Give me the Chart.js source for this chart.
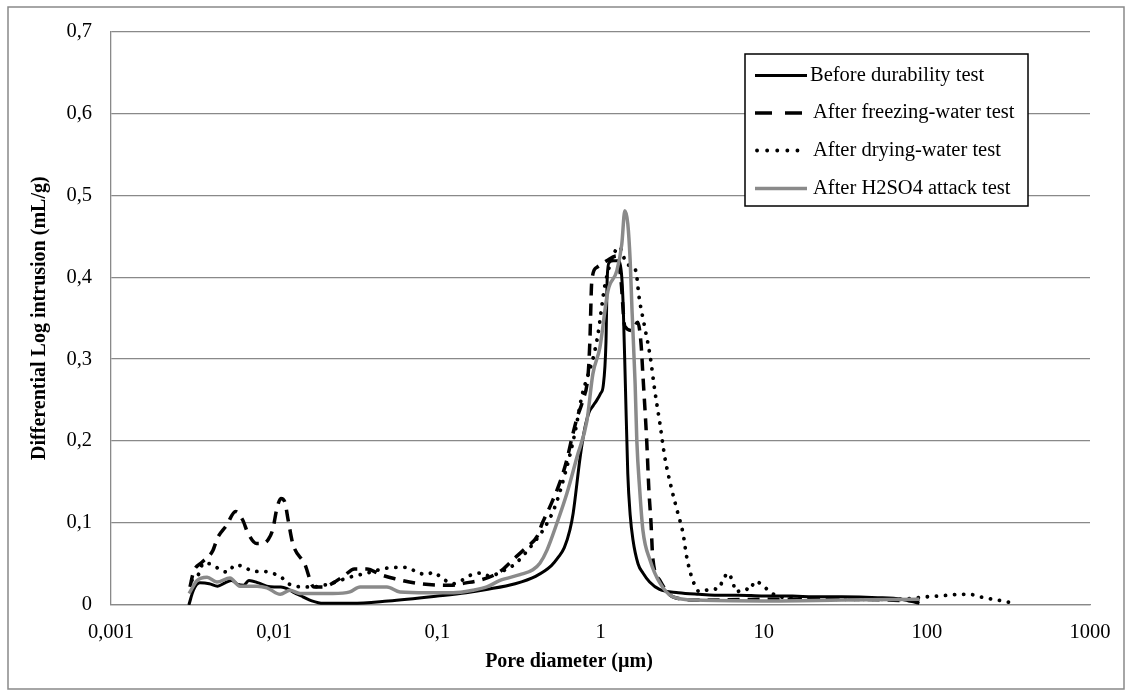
<!DOCTYPE html>
<html><head><meta charset="utf-8">
<script src="https://cdn.jsdelivr.net/npm/chart.js@4.4.0/dist/chart.umd.min.js"></script>
<style>html,body{margin:0;padding:0;background:#fff;} canvas{display:block;}</style>
</head><body>
<canvas id="c" width="1132" height="697"></canvas>
<script>
const seriesLabels = ['Before durability test', 'After freezing-water test', 'After drying-water test', 'After H2SO4 attack test'];
const xTickValues = [0.001, 0.01, 0.1, 1, 10, 100, 1000];
const xTickLabels = ['0,001', '0,01', '0,1', '1', '10', '100', '1000'];
const yTickLabels = ['0', '0,1', '0,2', '0,3', '0,4', '0,5', '0,6', '0,7'];
const xTitle = 'Pore diameter (µm)';
const yTitle = 'Differential Log intrusion (mL/g)';

// Before durability test
const beforeD = [0.003,0.0032,0.0035,0.004,0.0045,0.005,0.0055,0.006,0.0065,0.007,0.008,0.009,0.01,0.011,0.012,0.013,0.015,0.017,0.02,0.03,0.05,0.1,0.15,0.2,0.3,0.4,0.5,0.55,0.6,0.65,0.68,0.75,0.8,0.85,0.9,0.95,1.0,1.04,1.08,1.1,1.13,1.2,1.25,1.3,1.35,1.38,1.42,1.47,1.52,1.58,1.7,1.82,2.0,2.3,3,4,5,7,10,15,20,30,50,70,90];
const beforeV = [0.0,0.018,0.027,0.026,0.023,0.027,0.030,0.025,0.024,0.030,0.027,0.023,0.022,0.022,0.020,0.016,0.010,0.005,0.002,0.002,0.005,0.011,0.015,0.019,0.026,0.035,0.048,0.058,0.070,0.092,0.112,0.180,0.215,0.235,0.243,0.250,0.258,0.268,0.320,0.400,0.418,0.420,0.420,0.420,0.400,0.360,0.270,0.160,0.110,0.080,0.050,0.039,0.028,0.019,0.015,0.013,0.012,0.012,0.011,0.011,0.010,0.010,0.009,0.007,0.002];

// After freezing-water test
const freezeD = [0.00305,0.0032,0.0036,0.0042,0.0045,0.0051,0.0058,0.0064,0.0069,0.0078,0.0085,0.0092,0.0098,0.0104,0.011,0.0116,0.0122,0.013,0.0154,0.0175,0.02,0.023,0.027,0.031,0.037,0.045,0.055,0.078,0.12,0.15,0.18,0.22,0.25,0.29,0.35,0.41,0.44,0.49,0.56,0.62,0.67,0.72,0.78,0.84,0.86,0.885,0.95,1.09,1.26,1.33,1.41,1.56,1.69,1.77,1.82,1.92,1.98,2.04,2.09,2.31,2.78,4,10,30,90];
const freezeV = [0.022,0.040,0.052,0.066,0.082,0.097,0.114,0.104,0.088,0.075,0.075,0.080,0.092,0.118,0.130,0.126,0.103,0.075,0.050,0.022,0.022,0.027,0.036,0.044,0.044,0.037,0.032,0.026,0.024,0.027,0.030,0.036,0.043,0.055,0.070,0.084,0.100,0.120,0.148,0.176,0.205,0.229,0.250,0.282,0.320,0.396,0.412,0.420,0.426,0.400,0.340,0.335,0.345,0.320,0.280,0.200,0.140,0.100,0.058,0.030,0.010,0.006,0.007,0.007,0.005];

// After drying-water test
const dryD = [0.00313,0.0035,0.00366,0.00422,0.00465,0.00521,0.00575,0.00662,0.00741,0.00853,0.0097,0.0112,0.012,0.013,0.015,0.0173,0.0199,0.0229,0.0291,0.0371,0.0491,0.059,0.0651,0.075,0.0863,0.094,0.108,0.125,0.163,0.188,0.21,0.242,0.299,0.369,0.456,0.526,0.606,0.697,0.769,0.837,0.898,0.964,1.064,1.19,1.30,1.45,1.63,1.67,1.72,1.85,2.01,2.15,2.31,2.48,2.74,2.98,3.2,3.38,3.68,4.06,4.88,5.24,5.62,6.04,6.47,6.76,7.68,8.23,8.83,9.89,10.9,12.6,16.7,33.7,68.4,100,120,159,183,211,272,309,356];
const dryV = [0.030,0.040,0.051,0.049,0.043,0.040,0.049,0.046,0.041,0.041,0.039,0.033,0.027,0.024,0.022,0.022,0.024,0.027,0.034,0.039,0.045,0.046,0.046,0.040,0.037,0.040,0.032,0.026,0.037,0.039,0.035,0.040,0.050,0.070,0.095,0.120,0.160,0.210,0.255,0.280,0.300,0.330,0.390,0.425,0.437,0.416,0.410,0.400,0.377,0.343,0.305,0.262,0.222,0.180,0.140,0.112,0.088,0.058,0.030,0.016,0.020,0.019,0.030,0.039,0.028,0.016,0.020,0.018,0.029,0.024,0.016,0.010,0.008,0.007,0.007,0.010,0.011,0.013,0.013,0.010,0.006,0.004,0.001];

// After H2SO4 attack test
const acidD = [0.00301,0.00337,0.00388,0.00446,0.00536,0.00617,0.00785,0.00903,0.0109,0.0125,0.0144,0.0229,0.0291,0.0336,0.0491,0.059,0.0863,0.125,0.165,0.201,0.242,0.321,0.385,0.425,0.47,0.541,0.622,0.716,0.826,0.898,0.991,1.11,1.26,1.35,1.41,1.47,1.52,1.56,1.63,1.67,1.74,1.82,2.01,2.31,2.78,3.9,10,30,90];
const acidV = [0.014,0.030,0.034,0.028,0.033,0.023,0.023,0.021,0.013,0.018,0.014,0.014,0.016,0.022,0.022,0.016,0.015,0.015,0.018,0.022,0.030,0.037,0.043,0.051,0.067,0.100,0.136,0.180,0.225,0.282,0.314,0.383,0.408,0.440,0.481,0.465,0.420,0.360,0.270,0.200,0.140,0.091,0.055,0.027,0.010,0.006,0.005,0.006,0.007];

const toPts = (d, v) => d.map((x, i) => ({x: x, y: v[i]}));
const GRID = '#898989';
const FONT = "'Liberation Serif', 'Times New Roman', serif";

const styles = [
  {color: '#000000', width: 3, dash: [], cap: 'butt'},
  {color: '#000000', width: 3.5, dash: [12, 8], cap: 'butt'},
  {color: '#000000', width: 3.8, dash: [0.1, 9], cap: 'round'},
  {color: '#8a8a8a', width: 3.5, dash: [], cap: 'butt'}
];
const allData = [toPts(beforeD, beforeV), toPts(freezeD, freezeV), toPts(dryD, dryV), toPts(acidD, acidV)];

const datasets = allData.map((pts, i) => ({
  label: seriesLabels[i],
  data: pts,
  borderColor: styles[i].color,
  borderWidth: styles[i].width,
  borderDash: styles[i].dash,
  borderCapStyle: styles[i].cap,
  pointRadius: 0,
  fill: false,
  cubicInterpolationMode: 'monotone',
  order: 3 - i
}));

const framePlugin = {
  id: 'frame',
  beforeDraw(chart) {
    const ctx = chart.ctx;
    ctx.save();
    ctx.fillStyle = '#fff';
    ctx.fillRect(0, 0, chart.width, chart.height);
    ctx.strokeStyle = GRID;
    ctx.lineWidth = 1.5;
    ctx.strokeRect(8, 7, 1116, 682);
    ctx.restore();
  },
  afterDraw(chart) {
    const ctx = chart.ctx;
    ctx.save();
    ctx.font = "bold 20px " + FONT;
    ctx.fillStyle = '#000';
    ctx.textAlign = 'center';
    ctx.textBaseline = 'middle';
    ctx.fillText(xTitle, 569, 662);
    ctx.restore();
  }
};

const legendPlugin = {
  id: 'boxLegend',
  afterDatasetsDraw(chart) {
    const ctx = chart.ctx;
    const bx = 745, by = 54, bw = 283, bh = 152;
    ctx.save();
    ctx.fillStyle = '#fff';
    ctx.fillRect(bx, by, bw, bh);
    ctx.strokeStyle = '#000';
    ctx.lineWidth = 1.5;
    ctx.strokeRect(bx, by, bw, bh);
    const rowY = [75.5, 113, 150.5, 188.5];
    ctx.font = "20.5px " + FONT;
    ctx.textBaseline = 'middle';
    ctx.textAlign = 'left';
    for (let i = 0; i < seriesLabels.length; i++) {
      const s = styles[i];
      ctx.beginPath();
      ctx.strokeStyle = s.color;
      ctx.lineWidth = s.width;
      ctx.lineCap = s.cap;
      if (i === 1) ctx.setLineDash([17, 13]);
      else if (i === 2) ctx.setLineDash([0.1, 10]);
      else ctx.setLineDash([]);
      const x0 = i === 2 ? 757 : 755;
      const x1 = i === 1 ? 802 : (i === 2 ? 800 : 807);
      ctx.moveTo(x0, rowY[i]);
      ctx.lineTo(x1, rowY[i]);
      ctx.stroke();
      ctx.setLineDash([]);
      ctx.fillStyle = '#000';
      ctx.fillText(seriesLabels[i], i === 0 ? 810 : 813, rowY[i]);
    }
    ctx.restore();
  }
};

Chart.defaults.font.family = FONT;
Chart.defaults.color = '#000';

new Chart(document.getElementById('c'), {
  type: 'line',
  data: {datasets: datasets},
  options: {
    responsive: false,
    animation: false,
    layout: {padding: {left: 0, top: 30, right: 42, bottom: 0}},
    plugins: {legend: {display: false}, tooltip: {enabled: false}},
    scales: {
      x: {
        type: 'logarithmic',
        min: 0.001,
        max: 1000,
        afterFit(s) { s.height = 92; },
        afterBuildTicks(s) { s.ticks = xTickValues.map(v => ({value: v})); },
        grid: {display: false, drawTicks: false},
        border: {display: true, color: GRID, width: 1.3},
        ticks: {
          autoSkip: false, maxRotation: 0, padding: 15,
          font: {size: 20.5, family: FONT},
          callback: (v, i) => xTickLabels[i]
        },
        title: {display: false}
      },
      y: {
        type: 'linear',
        min: 0,
        max: 0.7,
        afterFit(s) { s.width = 111; },
        grid: {color: GRID, lineWidth: 1.3, drawTicks: false},
        border: {display: true, color: GRID, width: 1.3},
        ticks: {
          stepSize: 0.1, padding: 19,
          font: {size: 20.5, family: FONT},
          callback: (v) => yTickLabels[Math.round(v * 10)]
        },
        title: {display: true, text: yTitle, font: {size: 20, weight: 'bold', family: FONT}, padding: {top: 28, bottom: 0}}
      }
    }
  },
  plugins: [framePlugin, legendPlugin]
});
</script>
</body></html>
